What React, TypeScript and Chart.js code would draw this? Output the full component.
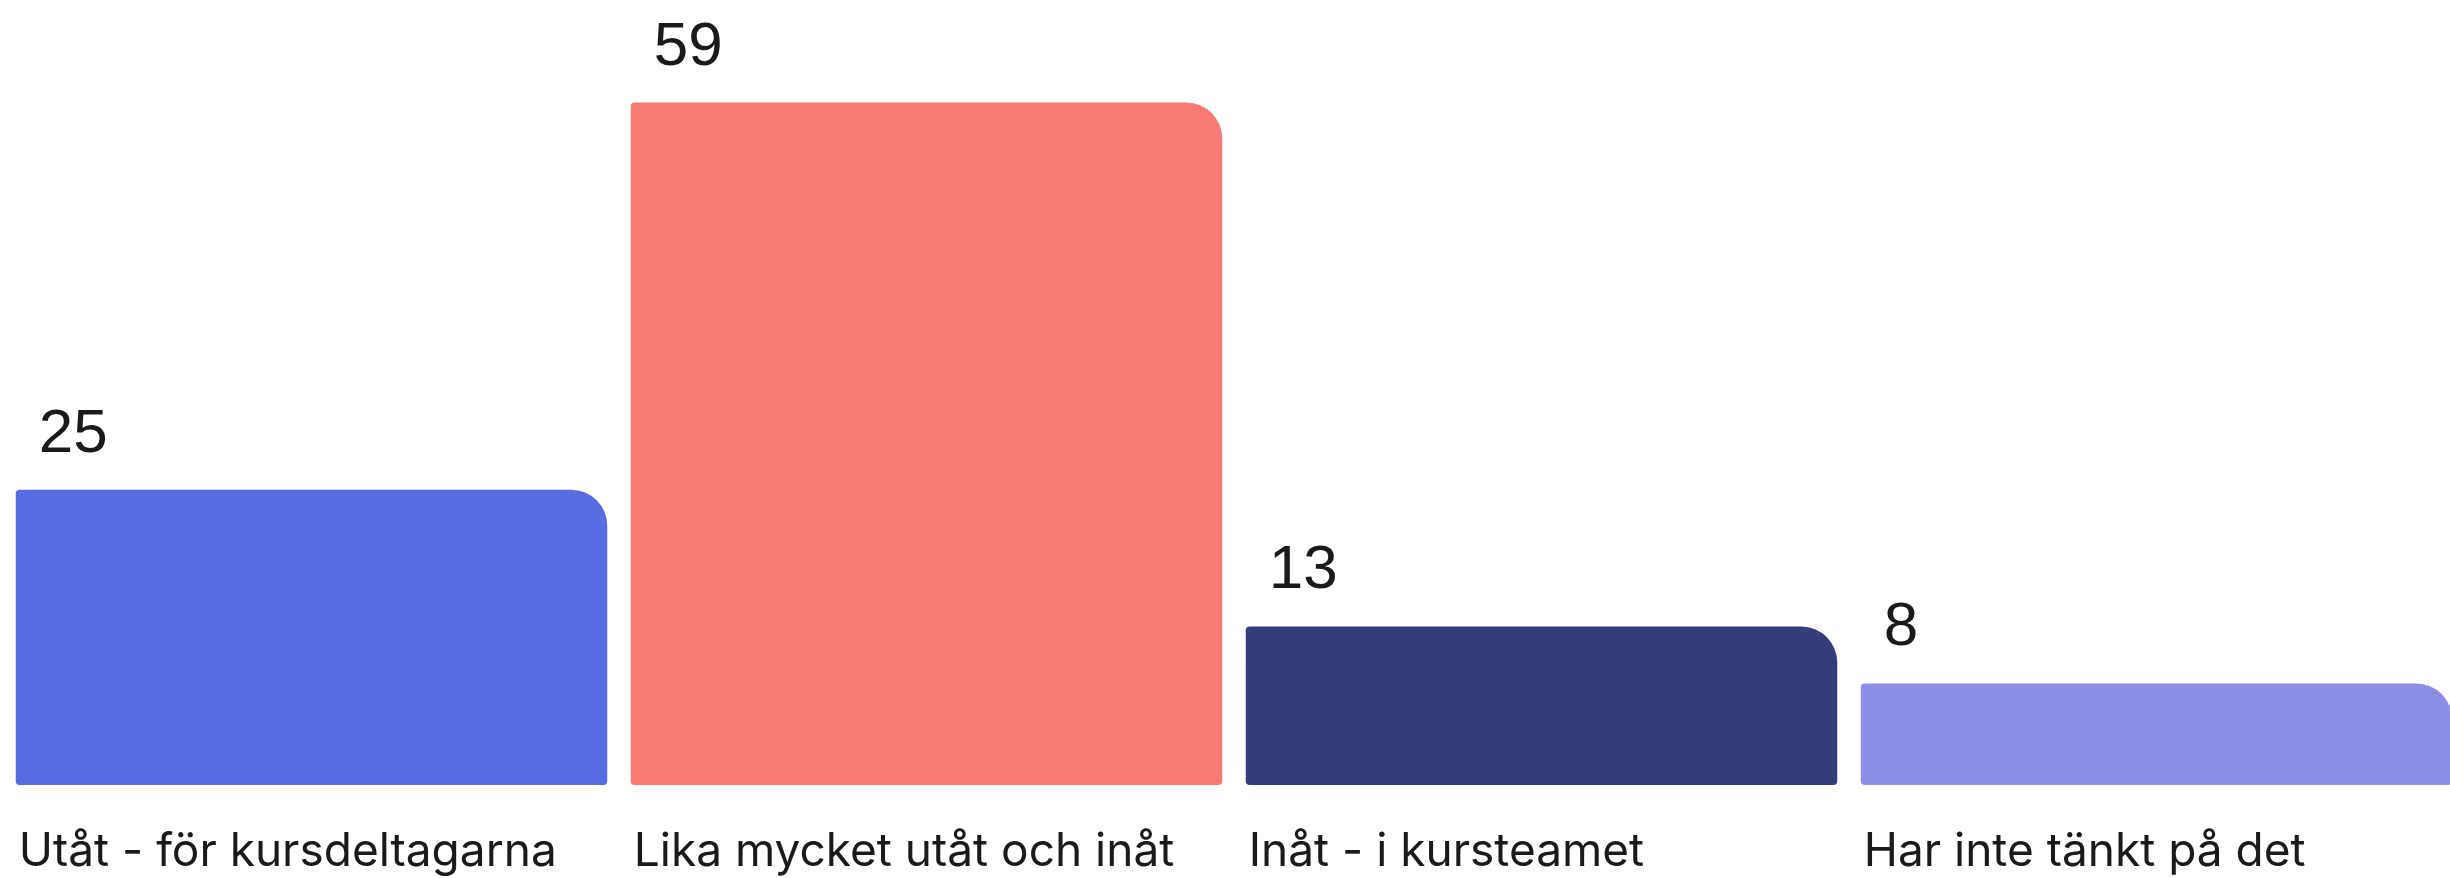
import React, { useEffect, useRef } from "react";
import { Chart, registerables } from "chart.js";

Chart.register(...registerables);

const categories: string[] = [
  "Utåt - för kursdeltagarna",
  "Lika mycket utåt och inåt",
  "Inåt - i kursteamet",
  "Har inte tänkt på det",
];
const values: number[] = [25, 59, 13, 8];
const valueLabels: string[] = ["25", "59", "13", "8"];
const barColors: string[] = ["#576CE0", "#F87A74", "#333D7A", "#8C8FE5"];

const labelPlugin = {
  id: "customLabels",
  afterDatasetsDraw(chart: any) {
    const ctx = chart.ctx as CanvasRenderingContext2D;
    const meta = chart.getDatasetMeta(0);
    meta.data.forEach((bar: any, i: number) => {
      const { x, y, width } = bar.getProps(["x", "y", "width"], true);
      const left = x - width / 2;
      ctx.save();
      ctx.fillStyle = "#1a1a1a";
      ctx.textAlign = "left";
      ctx.textBaseline = "alphabetic";
      ctx.font = '62px "Liberation Sans", Arial, sans-serif';
      ctx.fillText(valueLabels[i], left + 23, y - 38);
      ctx.font = '46px Inter, "Noto Sans", sans-serif';
      ctx.fillText(categories[i], left + 3, chart.chartArea.bottom + 81);
      ctx.restore();
    });
  },
};

export default function App() {
  const canvasRef = useRef<HTMLCanvasElement | null>(null);

  useEffect(() => {
    document.body.style.margin = "0";
    document.body.style.overflow = "hidden";
    const canvas = canvasRef.current;
    if (!canvas) return;
    const chart = new Chart(canvas, {
      type: "bar",
      data: {
        labels: categories,
        datasets: [
          {
            data: values,
            backgroundColor: barColors,
            borderWidth: 0,
            borderRadius: { topLeft: 4, topRight: 36, bottomLeft: 4, bottomRight: 4 },
            borderSkipped: false,
            base: -0.92,
            categoryPercentage: 1,
            barPercentage: 0.9618,
          },
        ],
      },
      options: {
        animation: false,
        responsive: false,
        maintainAspectRatio: false,
        devicePixelRatio: 1,
        layout: { padding: { left: 4, right: 6, top: 0, bottom: 93 } },
        plugins: {
          legend: { display: false },
          tooltip: { enabled: false },
          title: { display: false },
        },
        scales: {
          x: { display: false },
          y: { display: false, min: -0.92, max: 68 },
        },
      },
      plugins: [labelPlugin],
    });
    return () => chart.destroy();
  }, []);

  return (
    <div style={{ position: "fixed", left: 0, top: 0, width: 2470, height: 878, background: "#fff" }}>
      <canvas ref={canvasRef} width={2470} height={878} style={{ width: 2470, height: 878, display: "block" }} />
    </div>
  );
}
